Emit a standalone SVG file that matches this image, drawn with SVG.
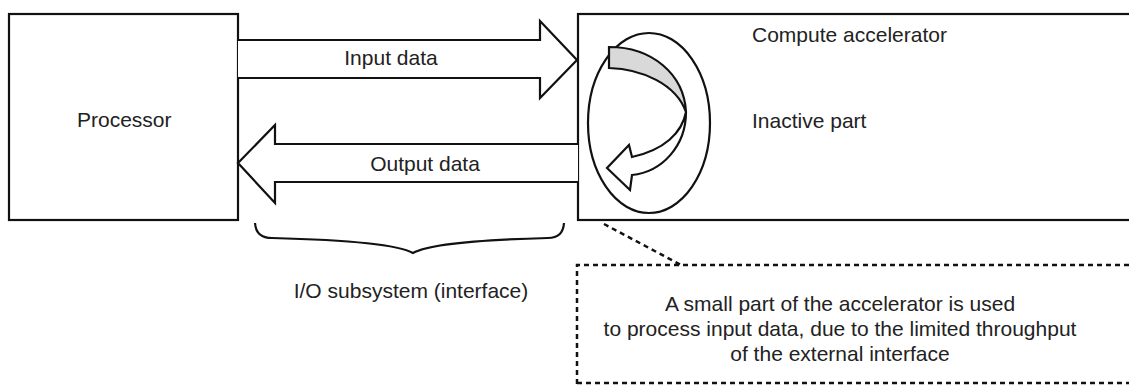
<svg xmlns="http://www.w3.org/2000/svg" width="1129" height="385" viewBox="0 0 1129 385">
<style>
.box{fill:#fff;stroke:#111;stroke-width:2.2}
.arr{fill:#fff;stroke:#111;stroke-width:2.2;stroke-linejoin:miter}
.t{font-family:"Liberation Sans",Arial,sans-serif;font-size:21px;fill:#222}
.c{text-anchor:middle}
.dash{fill:none;stroke:#111;stroke-width:2.5;stroke-dasharray:5 4}
</style>
<rect width="1129" height="385" fill="#fff"/>
<g id="processor">
<rect class="box" x="9" y="14" width="229" height="206"/>
<text class="t" x="77" y="127">Processor</text>
</g>
<g id="accelerator">
<rect class="box" x="578" y="14" width="560" height="206"/>
<text class="t" x="752" y="42">Compute accelerator</text>
<text class="t" x="752" y="128">Inactive part</text>
<ellipse cx="649" cy="123" rx="61" ry="90" fill="none" stroke="#111" stroke-width="2.2"/>
<path d="M609,47 L609,68 C642,69 676,84 686,112 C684,74 652,47 609,47 Z" fill="#d9d9d9" stroke="#111" stroke-width="2.2" stroke-linejoin="miter"/>
<path d="M686,112 C682,133 664,150 632,157 L629,145 L607,168 L630,190 L632,175 C662,172 686,146 686,112 Z" fill="#fff" stroke="#111" stroke-width="2.2" stroke-linejoin="miter"/>
</g>
<g id="connectors">
<g id="input-data">
<path class="arr" d="M238,40 L540,40 L540,21 L577,60 L540,98 L540,78 L238,78"/>
<text class="t c" x="391" y="65">Input data</text>
</g>
<g id="output-data">
<path class="arr" d="M578,144 L275,144 L275,125 L238,163 L275,203 L275,182 L578,182"/>
<text class="t c" x="425" y="171">Output data</text>
</g>
<g id="io-brace">
<path d="M255,223 Q256,238 272,238 Q392,241 413,253 Q434,241 548,238 Q563,238 564,223" fill="none" stroke="#111" stroke-width="2.2"/>
<text class="t c" x="411" y="298">I/O subsystem (interface)</text>
</g>
<path class="dash" d="M604,224 L681,265"/>
</g>
<g id="note">
<path class="dash" d="M1129,265 L577,265 L577,385"/>
<path class="dash" d="M577,383 L1129,383"/>
<text class="t c" x="840" y="311">A small part of the accelerator is used</text>
<text class="t c" x="840" y="336">to process input data, due to the limited throughput</text>
<text class="t c" x="840" y="361">of the external interface</text>
</g>
</svg>
